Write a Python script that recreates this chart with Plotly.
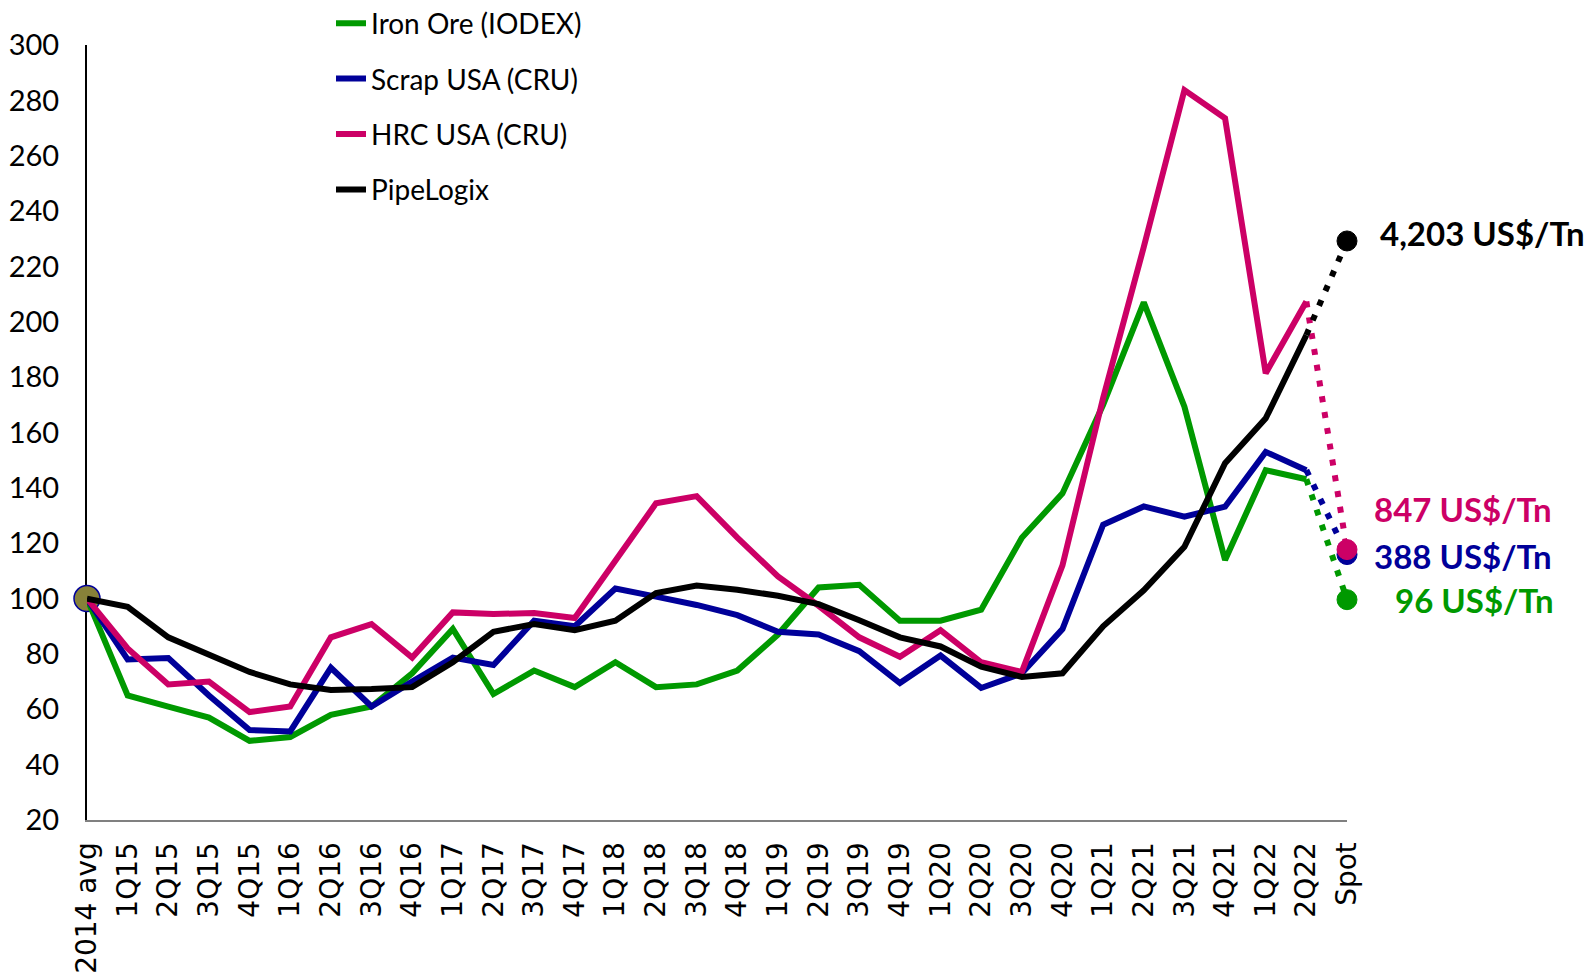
import plotly.graph_objects as go

categories = ['2014 avg', '1Q15', '2Q15', '3Q15', '4Q15', '1Q16', '2Q16', '3Q16', '4Q16',
              '1Q17', '2Q17', '3Q17', '4Q17', '1Q18', '2Q18', '3Q18', '4Q18',
              '1Q19', '2Q19', '3Q19', '4Q19', '1Q20', '2Q20', '3Q20', '4Q20',
              '1Q21', '2Q21', '3Q21', '4Q21', '1Q22', '2Q22', 'Spot']
quarters = categories[:-1]

iron_ore = [100, 65, 61, 57, 48.6, 50, 58, 61, 73, 89, 65.5, 74, 68, 77, 68, 69, 74,
            87, 104, 105, 92, 92, 96, 122, 138, 170, 207, 169.3, 113.9, 146.4, 143.1]
scrap_usa = [100, 78, 78.5, 65, 52.5, 52, 75, 61, 70, 78.7, 76, 92, 90, 103.6, 100.7, 97.7, 94,
             88, 87, 81, 69.5, 79.4, 67.7, 73, 89, 126.7, 133.3, 129.6, 133.2, 153, 146.4]
hrc_usa = [100, 82, 69, 70, 59, 61, 86, 90.8, 78.7, 95, 94.4, 94.8, 93, 113.5, 134.4, 137, 122,
           108, 97.4, 86, 79, 88.6, 77, 73.5, 112, 172.5, 227, 283.7, 273.5, 181.4, 207.3]
pipelogix = [100, 97, 86, 80, 73.5, 69, 67, 67.3, 68, 77, 88, 90.8, 88.6, 92, 102, 104.7, 103.2,
             101, 98, 92.2, 86, 82.7, 75.4, 71.7, 73, 90, 103, 118.7, 148.9, 165.1, 195.2]

spot_values = {'Iron Ore (IODEX)': 99.6, 'Scrap USA (CRU)': 115.9,
               'HRC USA (CRU)': 117.7, 'PipeLogix': 229.2}
spot_labels = {'Iron Ore (IODEX)': '96 US$/Tn', 'Scrap USA (CRU)': '388 US$/Tn',
               'HRC USA (CRU)': '847 US$/Tn', 'PipeLogix': '4,203 US$/Tn'}

series = [
    ('Iron Ore (IODEX)', iron_ore, '#009900'),
    ('Scrap USA (CRU)', scrap_usa, '#000099'),
    ('HRC USA (CRU)', hrc_usa, '#CC0066'),
    ('PipeLogix', pipelogix, '#000000'),
]
# label placement (anchor, xshift px, yshift px)
label_pos = {'Iron Ore (IODEX)': ('right', 209, 0), 'Scrap USA (CRU)': ('right', 207, -1),
             'HRC USA (CRU)': ('right', 207, 41), 'PipeLogix': ('left', 31, 8)}

fig = go.Figure()

# base point marker
fig.add_trace(go.Scatter(
    x=[quarters[0]], y=[pipelogix[0]], mode='markers', showlegend=False, cliponaxis=False,
    marker=dict(size=26, color='#878139', line=dict(color='#000099', width=1.5)),
    hoverinfo='skip'))

for name, vals, col in series:
    fig.add_trace(go.Scatter(
        x=quarters, y=vals, mode='lines', name=name, legendgroup=name,
        line=dict(color=col, width=6), cliponaxis=False))

for name, vals, col in series:
    fig.add_trace(go.Scatter(
        x=[quarters[-1], 'Spot'], y=[vals[-1], spot_values[name]], mode='lines',
        showlegend=False, cliponaxis=False,
        line=dict(color=col, width=6, dash='6px,10px')))

for name, vals, col in series:
    fig.add_trace(go.Scatter(
        x=['Spot'], y=[spot_values[name]], mode='markers', showlegend=False, cliponaxis=False,
        marker=dict(size=20, color=col, opacity=1, line=dict(color=col, width=1))))

for name, vals, col in series:
    anchor, xs, ys = label_pos[name]
    fig.add_annotation(x='Spot', y=spot_values[name], text=spot_labels[name], showarrow=False,
                       xanchor=anchor, yanchor='middle', xshift=xs, yshift=ys,
                       font=dict(family='Lato', size=33, color=col, weight='bold'))

fig.update_layout(
    width=1591, height=979,
    margin=dict(l=87, r=244, t=45, b=159, pad=0, autoexpand=False),
    plot_bgcolor='white', paper_bgcolor='white',
    font=dict(family='Lato', size=28, color='black'),
    legend=dict(x=(331 - 87) / 1260, xanchor='left', y=1.06, yanchor='top',
                font=dict(family='Lato', size=28, color='black'),
                bgcolor='rgba(0,0,0,0)', traceorder='grouped', tracegroupgap=16),
    showlegend=True,
)
fig.update_xaxes(type='category', categoryorder='array', categoryarray=categories,
                 tickvals=categories, range=[0, 31], showgrid=False, zeroline=False,
                 showline=True, linecolor='#808080', linewidth=2, ticks='',
                 tickangle=-90, tickfont=dict(family='DejaVu Sans', size=28, color='black'),
                 ticklabelstandoff=9)
fig.update_yaxes(range=[20, 300], tick0=20, dtick=20, showgrid=False, zeroline=False,
                 showline=True, linecolor='black', linewidth=2, ticks='', layer='below traces',
                 tickfont=dict(family='Lato', size=29, color='black'), ticklabelstandoff=20)

fig.write_html('out.html', config={'displayModeBar': False},
               post_script="document.body.style.margin='0';document.body.style.overflow='hidden';")
